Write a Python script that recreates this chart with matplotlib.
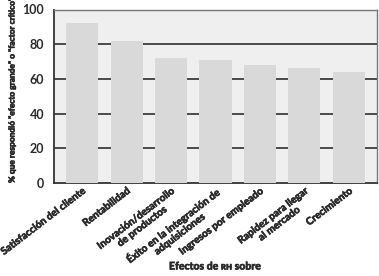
import matplotlib
matplotlib.use("Agg")
import matplotlib.pyplot as plt
import matplotlib.patheffects as pe

categories = [
    "Satisfacción del cliente",
    "Rentabilidad",
    "Inovación/desarrollo\nde productos",
    "Éxito en la integración de\nadquisiciones",
    "Ingresos por empleado",
    "Rapidez para llegar\nal mercado",
    "Crecimiento",
]
values = [92, 82, 72, 71, 68, 66, 64]
yticks = [0, 20, 40, 60, 80, 100]

FAMILY = ['Liberation Sans Narrow', 'Lato', 'DejaVu Sans']
plt.rcParams['font.family'] = FAMILY
TXT = '#2a2a2a'
bolden = [pe.withStroke(linewidth=0.45, foreground=TXT)]

fig = plt.figure(figsize=(3.79, 2.76), dpi=100)
renderer = fig.canvas.get_renderer()


def fit_size(s, target_px, weight='bold'):
    t = fig.text(0, 0, s, fontsize=10, fontweight=weight)
    w = t.get_window_extent(renderer).width
    t.remove()
    return 10 * target_px / w


tick_fs = fit_size(categories[0], 104)
ylab_text = '% que respondió "efecto grande" o "factor crítico"'
ylab_fs = fit_size(ylab_text, 186)
xlab_fs = fit_size('Efectos de RH sobre', 96)

ax = fig.add_axes([54/379, 1 - 183/276, 323/379, (183 - 9.5)/276])
ax.set_facecolor('#efefef')
x = list(range(len(categories)))
ax.bar(x, values, width=0.72, color='#d9d9d9', zorder=3)
ax.set_xlim(-0.63, len(categories) - 1 + 0.63)
ax.set_ylim(0, 100)
ax.set_yticks(yticks)
ax.set_yticklabels([str(v) for v in yticks], fontsize=9, fontweight='bold', color=TXT,
                   family=['Lato', 'DejaVu Sans'])
for v in yticks[1:-1]:
    ax.axhline(v, color='#4a4a4a', lw=1.4, zorder=1)
ax.tick_params(axis='y', length=0, pad=7)
ax.tick_params(axis='x', length=0, pad=2.5)
ax.set_xticks(x)
ax.set_xticklabels(categories, rotation=37.5, ha='right', rotation_mode='anchor',
                   fontsize=tick_fs, fontweight='bold', color=TXT, multialignment='center',
                   linespacing=1.15)
for lab in ax.get_xticklabels():
    lab.set_path_effects(bolden)
for s in ax.spines.values():
    s.set_color('#777777')
    s.set_linewidth(1.0)
ax.spines['left'].set_color('#333333')
ax.spines['bottom'].set_color('#333333')
ax.spines['left'].set_linewidth(1.3)
ax.spines['bottom'].set_linewidth(1.3)

fig.text(12/379, 1 - 183/276, ylab_text,
         rotation=90, ha='center', va='bottom', fontsize=ylab_fs, fontweight='bold', color=TXT,
         path_effects=bolden)
fig.text(215/379, 1 - 266/276, 'Efectos de ʀʜ sobre', ha='center', va='center',
         fontsize=xlab_fs, fontweight='bold', color=TXT, path_effects=bolden)

fig.savefig('out.png', dpi=100)
